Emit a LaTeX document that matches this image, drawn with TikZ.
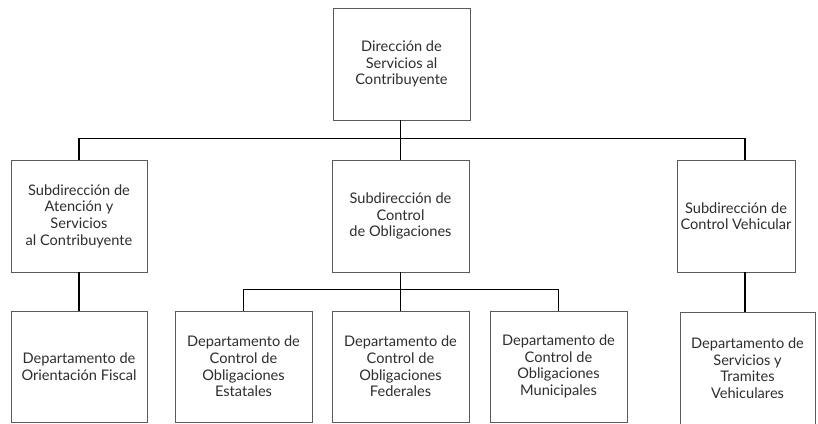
\documentclass[tikz,border=0pt]{standalone}
\usepackage{fontspec}
\setmainfont{Lato}
\definecolor{boxline}{HTML}{5A5A5A}
\definecolor{txt}{HTML}{2E2E2E}
\begin{document}
\begin{tikzpicture}[x=1pt,y=-1pt,
  box/.style={draw=boxline,line width=0.9pt,fill=white,align=center,inner sep=2pt,
    text=txt,font=\fontsize{14.6pt}{16.6pt}\selectfont,minimum height=112pt},
  conn/.style={draw=black,line width=1.4pt}]
\useasboundingbox[fill=white] (0,0) rectangle (818,423);
\clip (0,0) rectangle (818,423);
\node[box,minimum width=137pt] (top) at (401.5,64) {Dirección de\\Servicios al\\Contribuyente};
\node[box,minimum width=136pt] (s1) at (79,216) {Subdirección de\\Atención y\\Servicios\\al Contribuyente};
\node[box,minimum width=137pt] (s2) at (400.5,216) {Subdirección de\\Control\\de Obligaciones};
\node[box,minimum width=118pt] (s3) at (736,216) {Subdirección de\\Control Vehicular};
\node[box,minimum width=136pt,minimum height=111pt] (d1) at (79,366.5) {Departamento de\\Orientación Fiscal};
\node[box,minimum width=137pt,minimum height=111pt] (d2) at (243.5,366.5) {Departamento de\\Control de\\Obligaciones\\Estatales};
\node[box,minimum width=137pt,minimum height=111pt] (d3) at (400.5,366.5) {Departamento de\\Control de\\Obligaciones\\Federales};
\node[box,minimum width=137pt,minimum height=111pt] (d4) at (558.5,366.5) {Departamento de\\Control de\\Obligaciones\\Municipales};
\node[box,minimum width=135pt,minimum height=112pt] (d5) at (747.5,368) {Departamento de\\Servicios y\\Tramites\\Vehiculares};
% connectors
\draw[conn] (s2.north) -- (s2.north |- top.south);
\draw[conn] (s1.north) -- ++(0,-21) -| ([xshift=9pt]s3.north);
\draw[conn] (s1.south) -- (d1.north);
\draw[conn] (s2.south) -- (d3.north);
\draw[conn] (d2.north) -- ++(0,-21) -| (d4.north);
\draw[conn] ([xshift=9pt]s3.south) -- ([xshift=9pt]s3.south |- d5.north);
\end{tikzpicture}
\end{document}
